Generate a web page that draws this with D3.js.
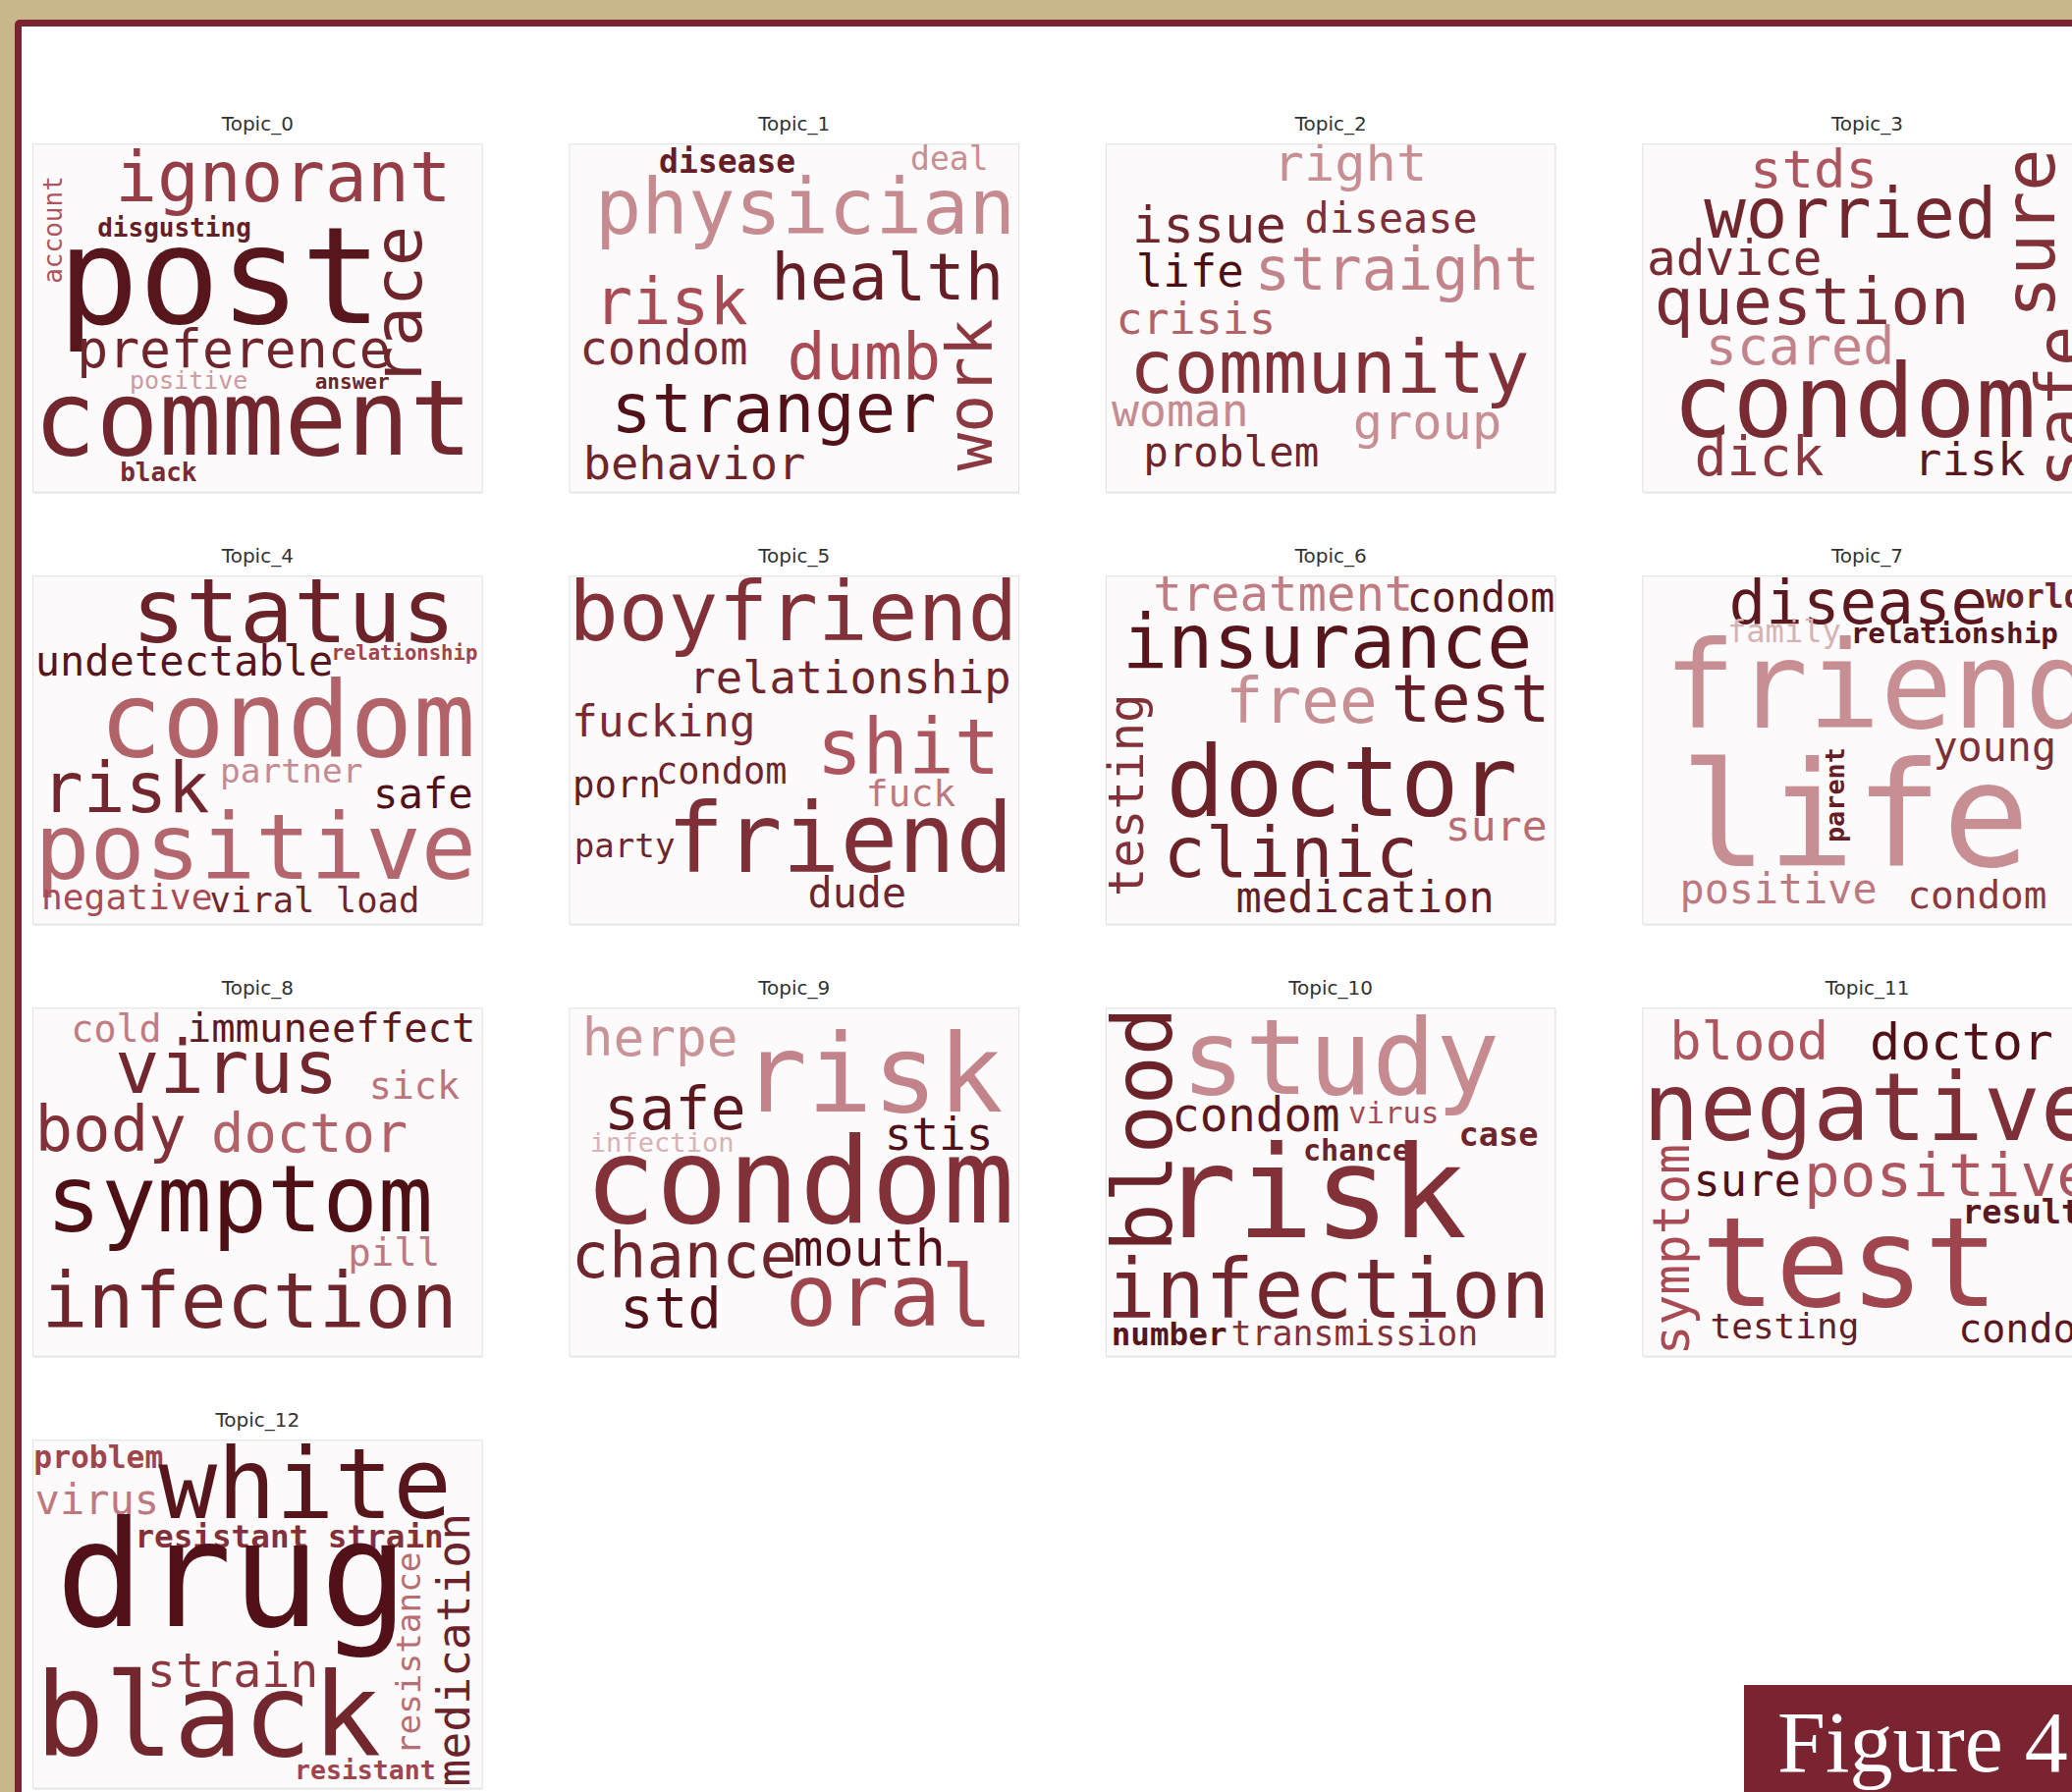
<!DOCTYPE html>
<html><head><meta charset="utf-8">
<script src="https://cdn.jsdelivr.net/npm/d3@7"></script>
<style>html,body{margin:0;padding:0;background:#fff;} svg{display:block}</style>
</head><body>
<svg id="chart" width="2110" height="1825"></svg>
<script>
// ---------------- DATA ----------------
const topicNames = ["Topic_0","Topic_1","Topic_2","Topic_3","Topic_4","Topic_5","Topic_6",
                    "Topic_7","Topic_8","Topic_9","Topic_10","Topic_11","Topic_12"];

const topicWords = [
  ["ignorant","disgusting","account","race","post","preference","positive","answer","comment","black"],
  ["disease","deal","physician","health","risk","condom","dumb","work","stranger","behavior"],
  ["right","issue","disease","life","straight","crisis","community","woman","group","problem"],
  ["stds","worried","sure","advice","question","scared","safe","condom","dick","risk"],
  ["status","undetectable","relationship","condom","risk","partner","safe","positive","negative","viral load"],
  ["boyfriend","relationship","fucking","shit","porn","condom","fuck","party","friend","dude"],
  ["treatment","condom","insurance","free","test","testing","doctor","sure","clinic","medication"],
  ["disease","world","family","relationship","friend","young","life","parent","positive","condom"],
  ["cold","immune","effect","virus","sick","body","doctor","symptom","pill","infection"],
  ["herpe","risk","safe","stis","infection","condom","chance","mouth","std","oral"],
  ["blood","study","condom","virus","case","chance","risk","infection","number","transmission"],
  ["blood","doctor","negative","symptom","sure","positive","result","test","testing","condom"],
  ["problem","virus","white","resistant strain","drug","medication","resistance","strain","black","resistant"]
];

// word weights (relative frequency, expressed in cloud font units)
const topicWeights = [
  [71, 26, 26, 68, 137, 53, 25, 21, 106, 26],
  [33, 33, 79, 65.6, 65, 47.4, 65, 64.3, 68.7, 47],
  [52, 52, 41.7, 45.6, 60.2, 45, 75.1, 46.3, 50.3, 42.5],
  [54, 70.7, 71.6, 49.3, 66.6, 53.2, 68.7, 102.5, 54.8, 47],
  [91.2, 42, 20.6, 106, 71.1, 34.5, 42.2, 93.3, 36.2, 35.5],
  [84.3, 45.4, 44.5, 77.5, 37.3, 36.9, 38, 34.1, 97.7, 41.7],
  [48.9, 41.7, 77, 64.3, 67.2, 49, 99.1, 43.1, 71.8, 43.7],
  [62.5, 33, 32.1, 29.2, 122, 41.7, 147.7, 26.8, 41.7, 39.3],
  [38.3, 40.5, 40.5, 75.5, 38.3, 64.1, 55.3, 93.5, 39, 78],
  [52.7, 110.4, 60, 46, 27.1, 121.2, 63.7, 51.5, 57.5, 87.7],
  [83, 107.6, 47.4, 30.7, 33.6, 30.2, 129.4, 83.3, 32.6, 34.8],
  [53.8, 51.7, 96, 51, 45.3, 61, 33.5, 125.7, 36, 40],
  [31.3, 42, 99, 32.6, 149, 46.2, 34.3, 48.3, 116.8, 26.5]
];

// colour intensity of each word (0 = pale rose, 1 = darkest maroon)
const topicShades = [
  [0.6, 0.85, 0.45, 0.8, 0.92, 0.8, 0.15, 0.8, 0.78, 0.75],
  [0.85, 0.2, 0.22, 0.85, 0.5, 0.75, 0.5, 0.65, 0.95, 0.8],
  [0.2, 0.8, 0.72, 0.98, 0.25, 0.4, 0.7, 0.22, 0.2, 0.8],
  [0.45, 0.78, 0.7, 0.75, 0.75, 0.25, 0.7, 0.75, 0.65, 0.9],
  [0.82, 0.92, 0.55, 0.4, 0.78, 0.22, 0.95, 0.38, 0.5, 0.8],
  [0.7, 0.8, 0.75, 0.45, 0.85, 0.8, 0.3, 0.8, 0.72, 0.8],
  [0.28, 0.92, 0.92, 0.2, 0.85, 0.7, 0.82, 0.35, 0.82, 0.85],
  [0.9, 0.8, 0.05, 0.92, 0.2, 0.72, 0.2, 0.85, 0.3, 0.65],
  [0.28, 0.9, 0.9, 0.78, 0.32, 0.7, 0.4, 0.97, 0.3, 0.8],
  [0.18, 0.25, 0.9, 0.95, 0.05, 0.7, 0.8, 0.95, 0.95, 0.55],
  [0.82, 0.22, 0.9, 0.5, 0.8, 0.82, 0.7, 0.78, 0.92, 0.7],
  [0.45, 0.95, 0.72, 0.5, 0.95, 0.45, 0.9, 0.55, 0.85, 0.9],
  [0.55, 0.3, 0.92, 0.7, 0.95, 0.82, 0.35, 0.65, 0.78, 0.55]
];

// word-cloud placements in cloud units (457 x 355): [ink-left, baseline, rotated]
const cloudLayout = [
  [[89.5,58.4,0],[66.5,94.5,0],[29.4,141.3,1],[395,235.5,1],[37.1,183,0],[48.6,228,0],[100.2,249.8,0],[286.8,249.8,0],[10.3,316.6,0],[89.5,343.4,0]],
  [[92,29.3,0],[347.7,26.7,0],[32.7,91.7,0],[211,158.3,0],[36,183.3,0],[14.3,225,0],[224.3,240,0],[429.3,333.3,1],[49.3,293.3,0],[17.7,341.7,0]],
  [[179,37,0],[30.7,100.7,0],[204,90.7,0],[33.3,145.7,0],[157.3,149,0],[14,194,0],[30.7,254,0],[5.7,287.3,0],[254,300.7,0],[40.7,329,0]],
  [[114,44,0],[62.3,95,0],[419,170.7,1],[7.3,133,0],[15.7,184,0],[69,225,0],[449.7,344,1],[39,299,0],[55.7,338,0],[284,338,0]],
  [[109.4,67.5,0],[6.1,101.9,0],[305.5,85.2,0],[77.4,183.7,0],[20.3,240.5,0],[193.2,210.4,0],[350,237.1,0],[9.6,309,0],[11.4,340,0],[180.7,342.4,0]],
  [[6,65,0],[129.3,119,0],[6,163.3,0],[259.3,202,0],[6,226,0],[91,211.7,0],[304.3,235,0],[7.7,286.7,0],[107.7,301.7,0],[244.3,337.5,0]],
  [[50.7,35,0],[309,36.7,0],[22.3,93.3,0],[127.3,150,0],[294,148.3,0],[38,324,1],[65.7,245,0],[349,270,0],[64,307,0],[134,343,0]],
  [[90.7,48,0],[349,32.3,0],[89,67,0],[215.7,68,0],[32.3,155,0],[297.3,189,0],[49,296,0],[204.7,270.7,1],[40.7,334,0],[272.3,339,0]],
  [[41.7,34.5,0],[160,34.5,0],[306,34.5,0],[86.3,86.5,0],[344.7,92.4,0],[7.8,145.6,0],[184.3,146.3,0],[22.1,227.5,0],[323.3,263,0],[15,325.7,0]],
  [[17.7,48,0],[194.3,105,0],[41,123.5,0],[324.3,144.5,0],[22.7,146.7,0],[26,219,0],[7.7,274.5,0],[229.3,263,0],[56,325.3,0],[224.3,323.3,0]],
  [[67,242,1],[87.3,87.5,0],[70.7,125.7,0],[247.3,117,0],[360.7,140.5,0],[202.3,156,0],[77.3,234,0],[7.3,316,0],[7.3,343.3,0],[129,343.3,0]],
  [[32.3,52.3,0],[234,52.3,0],[9,134.5,0],[47.3,349,1],[55.7,191.5,0],[169,191.5,0],[329,219.5,0],[67.3,303.5,0],[70.7,336.5,0],[324,341,0]],
  [[2.7,28.3,0],[4,75.4,0],[127.8,79.4,0],[107.7,109,0],[31,189.7,0],[444,351.2,1],[394.3,314.9,1],[121.1,251.6,0],[13.5,321.6,0],[269.1,345.8,0]]
];

// ---------------- LAYOUT ----------------
const W = 2110, H = 1825;
const svg = d3.select("#chart");
const CLOUD_W = 457, CLOUD_H = 355;
const panelW = 457.5, panelH = 354.5;
const nCols = 4;

const colScale = d3.scaleBand().domain(d3.range(nCols))
  .range([33.6, 33.6 + 3 * 546.4 + panelW]).paddingInner(1 - panelW / 546.4).paddingOuter(0);
const rowScale = d3.scaleLinear().domain([0, 1]).range([146.7, 146.7 + 440]);

const cx = d3.scaleLinear().domain([0, CLOUD_W]).range([0, panelW]);
const cy = d3.scaleLinear().domain([0, CLOUD_H]).range([0, panelH]);
const fontScale = d3.scaleLinear().domain([0, CLOUD_W]).range([0, panelW]);
const colour = d3.scaleLinear().domain([0, 0.5, 1])
  .range(["#dcbdbf", "#a84b54", "#480b11"]).interpolate(d3.interpolateRgb);

const FONT = '"DejaVu Sans Mono", "Liberation Mono", monospace';
const ctx = document.createElement("canvas").getContext("2d");
function inkOffset(word, fs, bold) {
  ctx.font = `${bold ? "bold " : ""}${fs}px "DejaVu Sans Mono"`;
  return ctx.measureText(word).actualBoundingBoxLeft;
}

// frame
svg.append("rect").attr("width", W).attr("height", H).attr("fill", "#c8b78b");
svg.append("rect").attr("x", 15).attr("y", 20).attr("width", W + 100).attr("height", H + 100)
  .attr("rx", 5).attr("fill", "#7a2331");
svg.append("rect").attr("x", 22).attr("y", 27).attr("width", W + 100).attr("height", H + 100)
  .attr("fill", "#ffffff");

const defs = svg.append("defs");

topicNames.forEach((name, t) => {
  const col = t % nCols, row = Math.floor(t / nCols);
  const px = colScale(col), py = rowScale(row);
  const g = svg.append("g").attr("transform", `translate(${px},${py})`);

  defs.append("clipPath").attr("id", "clip" + t)
    .append("rect").attr("width", panelW).attr("height", panelH);

  g.append("rect").attr("x", 0.5).attr("y", 1.5).attr("width", panelW).attr("height", panelH)
    .attr("fill", "#ececec");
  g.append("rect").attr("width", panelW).attr("height", panelH)
    .attr("fill", "#fcfafa").attr("stroke", "#e3e1e1").attr("stroke-width", 1);

  g.append("text").attr("x", panelW / 2).attr("y", -14)
    .attr("text-anchor", "middle").attr("font-family", '"DejaVu Sans", sans-serif')
    .attr("font-size", 20).attr("fill", "#333").text(name);

  const wg = g.append("g").attr("clip-path", `url(#clip${t})`);
  topicWords[t].forEach((w, i) => {
    const fs = fontScale(topicWeights[t][i]);
    const [lx, by, rot] = cloudLayout[t][i];
    const bold = topicWeights[t][i] < 34 && topicShades[t][i] > 0.5;
    const off = inkOffset(w, fs, bold);
    const tx = wg.append("text")
      .attr("font-family", FONT).attr("font-size", fs)
      .attr("font-weight", bold ? "bold" : "normal")
      .attr("fill", colour(topicShades[t][i]))
      .attr("xml:space", "preserve")
      .text(w);
    if (rot) {
      tx.attr("transform", `translate(${cx(lx)},${cy(by)}) rotate(-90)`).attr("x", off).attr("y", 0);
    } else {
      tx.attr("x", cx(lx) + off).attr("y", cy(by));
    }
  });
});

// figure label
svg.append("rect").attr("x", 1776).attr("y", 1716).attr("width", 400).attr("height", 200)
  .attr("fill", "#7a2331");
svg.append("text").attr("x", 1810).attr("y", 1804)
  .attr("font-family", '"Liberation Serif", "DejaVu Serif", serif')
  .attr("font-size", 88).attr("fill", "#ffffff").text("Figure 4");
</script>
</body></html>
